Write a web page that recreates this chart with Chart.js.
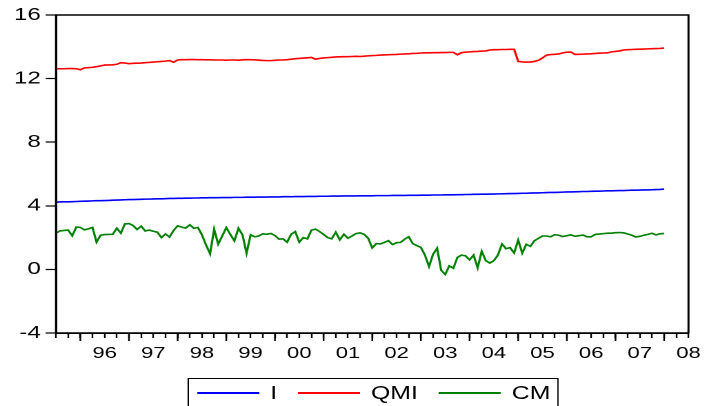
<!DOCTYPE html>
<html>
<head>
<meta charset="utf-8">
<script src="https://cdn.jsdelivr.net/npm/chart.js@4.4.1/dist/chart.umd.min.js"></script>
<style>
  html, body { margin: 0; padding: 0; background: #fff; overflow: hidden; }
  /* the original graph looks stretched sideways, so draw it narrow and widen the whole thing */
  #wrap { position: relative; width: 514px; height: 406px; transform: scaleX(1.3794); transform-origin: 0 0; }
  #legend { position: absolute; left: 135.6px; top: 378px; width: 269px; height: 30px; box-sizing: border-box;
            border: 1.5px solid #000; display: flex; align-items: center; padding-left: 6.4px;
            font: 18px "Liberation Sans", Arial, sans-serif; color: #000; }
  #legend .item { display: flex; align-items: center; margin-right: 15px; line-height: 1; }
  #legend .sw { display: inline-block; width: 45px; height: 1.5px; margin-right: 8px; }
</style>
</head>
<body>
<div id="wrap">
  <canvas id="chart"></canvas>
  <div id="legend"></div>
</div>
<script>
// year labels on the time axis (data starts 1995M01, monthly)
var yearLabels = ["96", "97", "98", "99", "00", "01", "02", "03", "04", "05", "06", "07", "08"];

var seriesNames = ["I", "QMI", "CM"];
var seriesColors = ["#0000ff", "#ff0000", "#008000"];

var I = [
  4.23, 4.24, 4.25, 4.25, 4.26, 4.27, 4.28, 4.29, 4.30, 4.31, 4.32, 4.32,
  4.33, 4.34, 4.35, 4.36, 4.37, 4.38, 4.39, 4.39, 4.40, 4.41, 4.42, 4.42,
  4.43, 4.44, 4.44, 4.45, 4.46, 4.46, 4.47, 4.47, 4.48, 4.48, 4.49, 4.49,
  4.50, 4.50, 4.51, 4.51, 4.51, 4.52, 4.52, 4.52, 4.53, 4.53, 4.53, 4.54,
  4.54, 4.54, 4.55, 4.55, 4.55, 4.56, 4.56, 4.56, 4.57, 4.57, 4.57, 4.58,
  4.58, 4.58, 4.59, 4.59, 4.59, 4.60, 4.60, 4.60, 4.61, 4.61, 4.61, 4.62,
  4.62, 4.62, 4.62, 4.63, 4.63, 4.63, 4.63, 4.64, 4.64, 4.64, 4.64, 4.65,
  4.65, 4.65, 4.65, 4.66, 4.66, 4.66, 4.67, 4.67, 4.67, 4.68, 4.68, 4.68,
  4.69, 4.69, 4.69, 4.70, 4.70, 4.71, 4.71, 4.72, 4.72, 4.73, 4.73, 4.74,
  4.74, 4.75, 4.75, 4.76, 4.77, 4.77, 4.78, 4.79, 4.79, 4.80, 4.81, 4.81,
  4.82, 4.83, 4.84, 4.84, 4.85, 4.86, 4.87, 4.87, 4.88, 4.89, 4.90, 4.90,
  4.91, 4.92, 4.92, 4.93, 4.94, 4.94, 4.95, 4.96, 4.96, 4.97, 4.98, 4.98,
  4.99, 5.00, 5.00, 5.01, 5.02, 5.03, 5.05
];

var QMI = [
  12.62, 12.62, 12.62, 12.63, 12.63, 12.62, 12.56, 12.67, 12.69, 12.71, 12.75, 12.80,
  12.85, 12.86, 12.87, 12.90, 13.00, 12.98, 12.94, 12.96, 12.97, 12.98, 13.00, 13.02,
  13.04, 13.06, 13.08, 13.10, 13.13, 13.03, 13.17, 13.19, 13.19, 13.20, 13.20, 13.19,
  13.19, 13.18, 13.18, 13.17, 13.17, 13.17, 13.16, 13.17, 13.17, 13.16, 13.18, 13.19,
  13.19, 13.18, 13.16, 13.14, 13.13, 13.13, 13.15, 13.17, 13.17, 13.19, 13.22, 13.25,
  13.27, 13.29, 13.31, 13.33, 13.22, 13.27, 13.30, 13.32, 13.34, 13.36, 13.37, 13.38,
  13.38, 13.39, 13.40, 13.39, 13.41, 13.43, 13.45, 13.46, 13.48, 13.49, 13.50, 13.51,
  13.52, 13.54, 13.55, 13.56, 13.58, 13.59, 13.61, 13.62, 13.62, 13.63, 13.63, 13.64,
  13.64, 13.65, 13.65, 13.50, 13.63, 13.66, 13.68, 13.70, 13.71, 13.73, 13.74, 13.80,
  13.82, 13.82, 13.83, 13.83, 13.84, 13.84, 13.08, 13.05, 13.04, 13.04, 13.08, 13.15,
  13.30, 13.48, 13.51, 13.53, 13.55, 13.62, 13.66, 13.67, 13.52, 13.53, 13.54, 13.55,
  13.56, 13.58, 13.60, 13.61, 13.62, 13.68, 13.71, 13.74, 13.80, 13.82, 13.83, 13.84,
  13.85, 13.86, 13.87, 13.88, 13.89, 13.90, 13.92
];

var CM = [
  2.28, 2.42, 2.45, 2.47, 2.11, 2.66, 2.64, 2.49, 2.55, 2.64, 1.71, 2.15,
  2.19, 2.20, 2.21, 2.59, 2.28, 2.86, 2.88, 2.76, 2.51, 2.72, 2.42, 2.47,
  2.40, 2.34, 2.00, 2.23, 2.03, 2.45, 2.74, 2.66, 2.60, 2.80, 2.59, 2.64,
  2.17, 1.54, 0.98, 2.53, 1.59, 2.10, 2.63, 2.20, 1.79, 2.59, 2.17, 1.02,
  2.17, 2.05, 2.10, 2.24, 2.21, 2.26, 2.13, 1.90, 1.92, 1.71, 2.21, 2.38,
  1.71, 2.00, 1.92, 2.47, 2.53, 2.38, 2.20, 2.00, 1.92, 2.34, 1.86, 2.21,
  1.96, 2.10, 2.25, 2.30, 2.20, 1.96, 1.35, 1.62, 1.60, 1.70, 1.81, 1.56,
  1.68, 1.70, 1.90, 2.05, 1.62, 1.50, 1.38, 0.90, 0.18, 0.95, 1.33, -0.05,
  -0.32, 0.22, 0.07, 0.75, 0.90, 0.85, 0.60, 0.90, 0.10, 1.14, 0.55, 0.40,
  0.55, 0.90, 1.60, 1.30, 1.37, 1.03, 1.84, 1.02, 1.58, 1.45, 1.80, 1.95,
  2.10, 2.10, 2.05, 2.18, 2.15, 2.07, 2.12, 2.17, 2.08, 2.12, 2.16, 2.05,
  2.05, 2.20, 2.22, 2.25, 2.28, 2.28, 2.31, 2.32, 2.30, 2.23, 2.15, 2.04,
  2.08, 2.15, 2.20, 2.27, 2.17, 2.24, 2.26
];

var lastMonth = 156; // axis runs to 2008M01

// quarterly tick marks along the time axis
var quarterTicks = [];
for (var m = 0; m <= lastMonth; m += 3) quarterTicks.push(m);

function toPoints(arr) {
  return arr.map(function (v, i) { return { x: i, y: v }; });
}

Chart.defaults.font.family = '"Liberation Sans", Arial, sans-serif';
Chart.defaults.color = "#000";

// box round the plot + the longer mid-year ticks
var frame = {
  id: "frame",
  afterDraw: function (chart) {
    var a = chart.chartArea, ctx = chart.ctx, x = chart.scales.x;
    ctx.save();
    ctx.strokeStyle = "#000";
    ctx.lineWidth = 1.5;
    ctx.strokeRect(a.left, a.top, a.right - a.left, a.bottom - a.top);
    ctx.lineWidth = 1.2;
    quarterTicks.forEach(function (m) {
      if (m % 12 !== 6) return;
      var px = x.getPixelForValue(m);
      ctx.beginPath();
      ctx.moveTo(px, a.bottom);
      ctx.lineTo(px, a.bottom + 8);
      ctx.stroke();
    });
    ctx.restore();
  }
};

var seriesData = [I, QMI, CM];

new Chart(document.getElementById("chart"), {
  type: "line",
  data: {
    datasets: seriesNames.map(function (name, k) {
      return {
        label: name,
        data: toPoints(seriesData[k]),
        borderColor: seriesColors[k],
        borderWidth: 1.6,
        fill: false
      };
    })
  },
  options: {
    responsive: true,
    maintainAspectRatio: false,
    devicePixelRatio: 2,
    animation: false,
    layout: { padding: { top: 15, right: 12.3, left: 0, bottom: 0 } },
    elements: { point: { radius: 0 }, line: { tension: 0 } },
    plugins: { legend: { display: false }, tooltip: { enabled: false } },
    scales: {
      x: {
        type: "linear",
        min: 0,
        max: lastMonth,
        afterBuildTicks: function (s) {
          s.ticks = quarterTicks.map(function (v) { return { value: v }; });
        },
        afterFit: function (s) { s.height = 73; },
        grid: { drawOnChartArea: false, tickLength: 5, tickColor: "#000", tickWidth: 1.2 },
        border: { color: "#000", width: 1.5 },
        ticks: {
          autoSkip: false,
          maxRotation: 0,
          padding: 6,
          font: { size: 16 },
          callback: function (v) {
            return (v > 0 && v % 12 === 0) ? yearLabels[v / 12 - 1] : "";
          }
        }
      },
      y: {
        min: -4,
        max: 16,
        afterFit: function (s) { s.width = 40.6; },
        grid: { drawOnChartArea: false, tickLength: 7.5, tickColor: "#000", tickWidth: 1.2 },
        border: { color: "#000", width: 1.5 },
        ticks: { stepSize: 4, padding: 3.5, font: { size: 17.5 } }
      }
    }
  },
  plugins: [frame]
});

// legend box under the axis
var legend = document.getElementById("legend");
seriesNames.forEach(function (name, k) {
  var item = document.createElement("span");
  item.className = "item";
  var sw = document.createElement("span");
  sw.className = "sw";
  sw.style.backgroundColor = seriesColors[k];
  item.appendChild(sw);
  item.appendChild(document.createTextNode(name));
  legend.appendChild(item);
});
</script>
</body>
</html>
